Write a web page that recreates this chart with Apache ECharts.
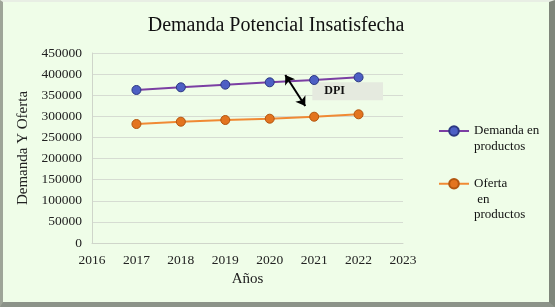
<!DOCTYPE html>
<html><head><meta charset="utf-8">
<script src="https://cdn.jsdelivr.net/npm/echarts@6/dist/echarts.min.js"></script>
<style>
html,body{margin:0;padding:0;background:#fff;}
#wrap{position:absolute;left:0;top:0;width:546px;height:300px;border-left:3px solid #9ea598;border-top:2px solid #e8eee4;border-right:6px solid #7f867b;border-bottom:5px solid #8c9389;background:#effde8;}
#c{width:546px;height:300px;}
</style></head>
<body><div id="wrap"><div id="c"></div></div>
<script>
const years = [2017, 2018, 2019, 2020, 2021, 2022];
const demanda = [362400, 368800, 375000, 380600, 386000, 392400];
const oferta = [281800, 287300, 291300, 294400, 299100, 304800];
const yTicks = {min: 0, max: 450000, interval: 50000};
const xTicks = {min: 2016, max: 2023, interval: 1};
const arrowFrom = [2020.35, 398000];
const arrowTo = [2020.8, 324500];
const dpiBox = [[2020.96, 381000], [2022.55, 338000]];

const serif = 'Liberation Serif';
const chart = echarts.init(document.getElementById('c'));
chart.setOption({
  backgroundColor: '#effde8',
  animation: false,
  textStyle: {fontFamily: serif},
  title: {text: 'Demanda Potencial Insatisfecha', left: 'center', top: 9,
    textStyle: {fontFamily: serif, fontSize: 20, fontWeight: 'normal', color: '#111'}},
  grid: {left: 89, right: 146, top: 51, bottom: 59},
  xAxis: {type: 'value', min: xTicks.min, max: xTicks.max, interval: xTicks.interval,
    name: 'Años', nameLocation: 'middle', nameGap: 27,
    nameTextStyle: {fontFamily: serif, fontSize: 15, color: '#222'},
    axisLine: {lineStyle: {color: '#cfd5ca'}}, axisTick: {show: false},
    axisLabel: {fontFamily: serif, fontSize: 13.5, color: '#222', margin: 10, formatter: v => String(v)},
    splitLine: {show: false}},
  yAxis: {type: 'value', min: yTicks.min, max: yTicks.max, interval: yTicks.interval,
    name: 'Demanda Y Oferta', nameLocation: 'middle', nameGap: 44,
    nameTextStyle: {fontFamily: serif, fontSize: 15, color: '#222'},
    axisLine: {show: true, lineStyle: {color: '#cfd5ca'}}, axisTick: {show: false},
    axisLabel: {fontFamily: serif, fontSize: 13.5, color: '#222', margin: 10, formatter: v => String(v)},
    splitLine: {lineStyle: {color: '#d6dcd2'}}},
  legend: [
    {data: ['Demanda en\nproductos'], orient: 'vertical', left: 435, top: 105, padding: 0,
     itemWidth: 30, itemHeight: 12, itemGap: 0,
     formatter: n => '\n' + n,
     textStyle: {fontFamily: serif, fontSize: 13, color: '#111', lineHeight: 16}},
    {data: ['Oferta\n en\nproductos'], orient: 'vertical', left: 435, top: 143, padding: 0,
     itemWidth: 30, itemHeight: 12, itemGap: 0,
     formatter: n => '\n\n' + n,
     textStyle: {fontFamily: serif, fontSize: 13, color: '#111', lineHeight: 15.5}}
  ],
  series: [
    {name: 'Demanda en\nproductos', type: 'line', data: years.map((y, i) => [y, demanda[i]]),
     symbol: 'circle', symbolSize: 9,
     lineStyle: {color: '#7b3fa3', width: 2},
     itemStyle: {color: '#4d5fc4', borderColor: '#2c3882', borderWidth: 1},
     markLine: {silent: true, symbol: ['arrow', 'arrow'], symbolSize: 9, label: {show: false},
       lineStyle: {color: '#000', width: 2, type: 'solid'},
       data: [[{coord: arrowFrom}, {coord: arrowTo}]]},
     markArea: {silent: true, itemStyle: {color: '#e5eadf'},
       label: {show: true, position: 'insideLeft', distance: 12, formatter: 'DPI',
         fontFamily: serif, fontSize: 12, fontWeight: 'bold', color: '#111'},
       data: [[{coord: dpiBox[0]}, {coord: dpiBox[1]}]]}},
    {name: 'Oferta\n en\nproductos', type: 'line', data: years.map((y, i) => [y, oferta[i]]),
     symbol: 'circle', symbolSize: 9,
     lineStyle: {color: '#f08a34', width: 2},
     itemStyle: {color: '#e3741f', borderColor: '#b3560f', borderWidth: 1}}
  ]
});
</script></body></html>
